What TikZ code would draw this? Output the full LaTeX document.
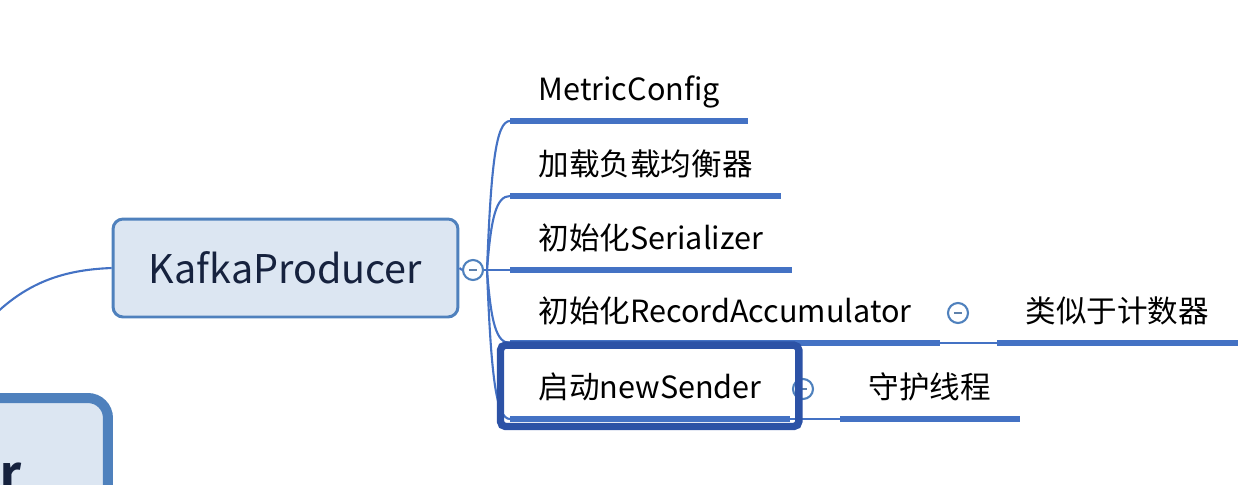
\documentclass[tikz,border=0pt]{standalone}
\usepackage{fontspec}
\setmainfont{Noto Sans CJK SC}
\usepackage{tikz}
\usetikzlibrary{calc}

\definecolor{boxblue}{RGB}{79,129,189}
\definecolor{fillblue}{RGB}{220,230,242}
\definecolor{lineblue}{RGB}{68,114,196}
\definecolor{selblue}{RGB}{44,82,166}
\definecolor{textnavy}{RGB}{22,34,62}

\begin{document}
\begin{tikzpicture}[x=0.02cm,y=-0.02cm,thick]
\tikzstyle{root}=[draw=boxblue,fill=fillblue,line width=1.7pt,rounded corners=0.2cm,
  minimum width=6.9cm,minimum height=1.96cm,text=textnavy,font=\fontsize{22.5}{26}\selectfont]
\tikzstyle{topic}=[inner xsep=0.56cm,inner ysep=0pt,minimum height=1.12cm,text height=12pt,
  text depth=3pt,anchor=south west,font=\fontsize{17.4}{20}\selectfont]
\tikzstyle{fold}=[circle,draw=boxblue,fill=white,line width=1.2pt,minimum size=0.4cm,inner sep=0pt,
  path picture={\draw[boxblue!70!gray,line width=1pt]
  ([xshift=-2.3pt]path picture bounding box.center) -- ([xshift=2.3pt]path picture bounding box.center);}]
\tikzstyle{uline}=[draw=lineblue,line width=3.2pt]
\tikzstyle{branch}=[draw=lineblue,line width=1.2pt]

\useasboundingbox (0,0) rectangle (1257,484);
\clip (0,0) rectangle (1257,484);

% main node, cut at the lower left corner
\node[draw=boxblue,fill=fillblue,line width=5.7pt,rounded corners=0.4cm,
  minimum width=4.56cm,minimum height=3.6cm] (main) at (-6,488) {};
\node[anchor=base east,text=textnavy,font=\fontsize{26}{30}\selectfont\bfseries] (maintext) at (28,489) {er};

\node[root] (kp) at (285.5,268) {KafkaProducer};
\coordinate (lk) at (-20,330);
\draw[branch] (kp.west) .. controls (60,270) and (20,284) .. (lk);

\node[fold] (f1) at (473,270) {};
\coordinate (fork) at (487,270);

\node[topic] (mc) at (510,121) {MetricConfig};
\node[topic] (lb) at (510,196) {加载负载均衡器};
\node[topic] (se) at (510,270) {初始化Serializer};
\node[topic] (ra) at (510,343) {初始化RecordAccumulator};
\node[topic] (ns) at (510,419) {启动newSender};

\node[fold] (f2) at (958,313) {};
\node[fold] (f3) at (803,389) {};
\node[topic] (jsq) at (997,343) {类似于计数器};
\node[topic] (sh) at (840,419) {守护线程};

\draw[branch] (kp.east) -- (f1.west);
\draw[branch] (f1.east) -- (fork) -- (se.south west);
\foreach \n/\dy in {mc/-105,lb/-52,ra/52,ns/105}
  \draw[branch] (fork) .. controls ($(fork)+(4,\dy)$) and ($(\n.south west)+(-14,0)$) .. (\n.south west);

\draw[branch] (ra.south east) -- (jsq.south west);
\draw[branch] (ns.south east) -- (sh.south west);

\foreach \n in {mc,lb,se,ra,ns,jsq,sh}
  \draw[uline] (\n.south west) -- (\n.south east);

% selection frame
\draw[selblue,line width=4.2pt,rounded corners=0.1cm]
([xshift=-0.19cm,yshift=0.33cm]ns.north west) rectangle ([xshift=0.17cm,yshift=-0.15cm]ns.south east);

\end{tikzpicture}
\end{document}
